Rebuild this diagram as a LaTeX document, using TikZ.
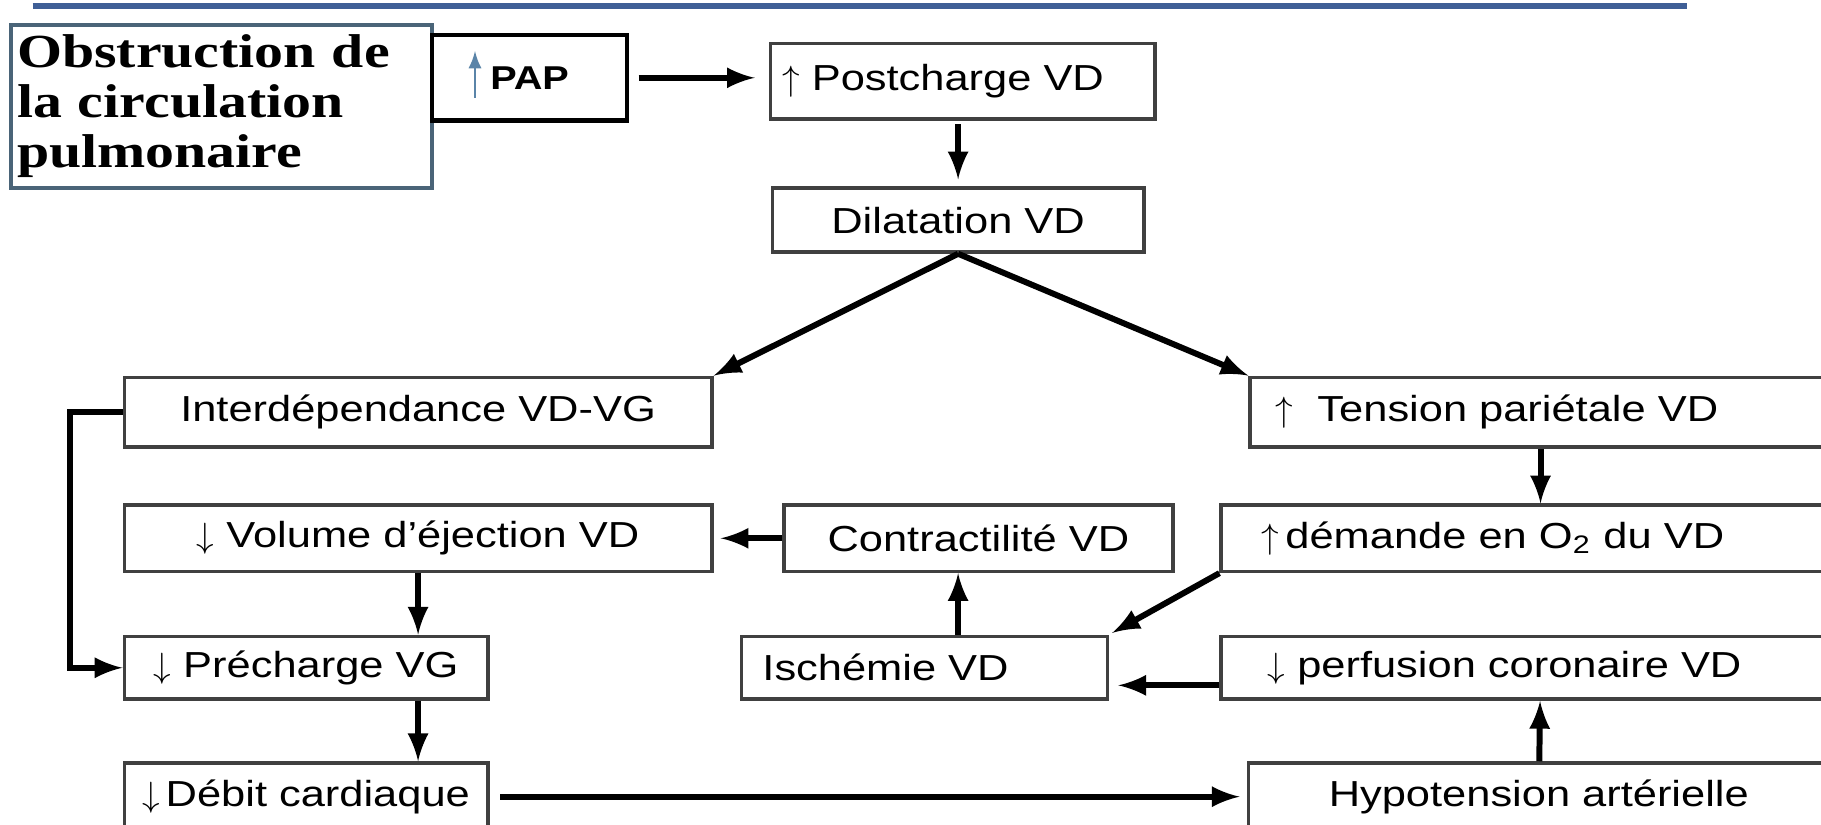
\documentclass[tikz,border=0pt]{standalone}
\usepackage{fontspec}
\usepackage{tikz}
\newfontfamily\boxfont[FakeStretch=1.2]{Liberation Sans}
\newfontfamily\obsfont[FakeStretch=1.22]{Liberation Serif}
\newlength\unitpx
\setlength\unitpx{0.3305pt}
\newcommand\upar{$\uparrow$}
\newcommand\downar{$\downarrow$}
\definecolor{titleblue}{RGB}{63,95,150}
\definecolor{obsframe}{RGB}{74,100,120}
\definecolor{papblue}{RGB}{90,132,168}
\tikzstyle{box} = [draw=black!75, line width=1pt, rectangle, inner sep=0pt, font={\boxfont\fontsize{10.3pt}{12pt}\selectfont}]
\tikzstyle{leftbox} = [box, align=left, anchor=west]
\tikzstyle{obsbox} = [draw=obsframe, line width=1.1pt, align=left, inner ysep=0pt, font={\obsfont\bfseries\fontsize{13.5pt}{14.2pt}\selectfont}]
\tikzstyle{papbox} = [box, draw=black, line width=1.3pt, font={\boxfont\bfseries\fontsize{9.4pt}{11pt}\selectfont}]
\tikzstyle{arr} = [-latex, line width=1.7pt]

\begin{document}
\begin{tikzpicture}[x=0.3305pt, y=-0.3305pt]
        \useasboundingbox (0,0) rectangle (1568,710);
        \draw[titleblue, line width=1.7pt] (28,5) -- (1453,5);
        % top row
        \node[obsbox, anchor=north west, minimum height=140\unitpx, text width=352\unitpx, inner xsep=5\unitpx](obs) at (8,20){Obstruction de\\la circulation\\pulmonaire};
        \node[papbox, minimum width=168\unitpx, minimum height=74\unitpx](pap) at (456,67){PAP};
        \draw[papblue, line width=0.7pt, -latex] (409,84) -- (409,44);
        \node[leftbox, minimum height=65\unitpx, text width=311\unitpx, inner xsep=10\unitpx](post) at (662,70){\upar\ Postcharge VD};
        \node[box, minimum width=320\unitpx, minimum height=55\unitpx](dil) at (825,189.5){Dilatation VD};
        % middle rows
        \node[box, minimum width=506\unitpx, minimum height=60\unitpx](inter) at (360,355){Interdépendance VD-VG};
        \node[leftbox, minimum height=60\unitpx, text width=456\unitpx, inner xsep=22\unitpx](tens) at (1075,355){\upar\ \ Tension pariétale VD};
        \node[box, minimum width=506\unitpx, minimum height=57\unitpx](vol) at (360,463.5){\downar\ Volume d’éjection VD};
        \node[box, minimum width=335\unitpx, minimum height=57\unitpx](contr) at (842.5,463.5){Contractilité VD};
        \node[leftbox, minimum height=57\unitpx, text width=480\unitpx, inner xsep=35\unitpx](dem) at (1050,463.5){\upar\,démande en O\textsubscript{2} du VD};
        \node[box, minimum width=313\unitpx, minimum height=54\unitpx](prec) at (263.5,575){\downar\ Précharge VG};
        \node[leftbox, minimum height=54\unitpx, text width=279\unitpx, inner xsep=18\unitpx](isch) at (637,575){Ischémie VD};
        \node[leftbox, minimum height=54\unitpx, text width=470\unitpx, inner xsep=40\unitpx](perf) at (1050,575){\downar\ perfusion coronaire VD};
        % bottom row
        \node[box, minimum width=313\unitpx, minimum height=58\unitpx](deb) at (263.5,686){\downar\,Débit cardiaque};
        \node[box, minimum width=500\unitpx, minimum height=58\unitpx](hypo) at (1325,686){Hypotension artérielle};
        \draw[arr, shorten <=2.6pt, shorten >=4pt](pap.east) -- (pap.east -| post.west);
        \draw[arr, shorten <=1pt, shorten >=2pt](post.south -| dil) -- (dil.north);
        \draw[arr](dil.south) -- (inter.north east);
        \draw[arr](dil.south) -- (tens.north west);
        \draw[arr](tens) -- (dem);
        \draw[arr, shorten >=2pt](contr) -- (vol);
        \draw[arr](vol.south) -- (vol.south |- prec.north);
        \draw[arr](prec.south -| vol) -- (deb.north -| vol);
        \draw[arr](inter.west) -- ++(-45,0) |- (prec.west);
        \draw[arr](isch.north -| dil) -- (contr.south -| dil);
        \draw[arr, shorten >=1pt](dem.south west) -- (isch.north east);
        \draw[arr, shorten >=2.6pt]([yshift=-5pt]perf.west) -- ([yshift=-5pt]perf.west -| isch.east);
        \draw[arr](hypo) -- (perf);
        \draw[arr, shorten <=3pt, shorten >=2pt](deb) -- (hypo);
      \end{tikzpicture}
\end{document}
